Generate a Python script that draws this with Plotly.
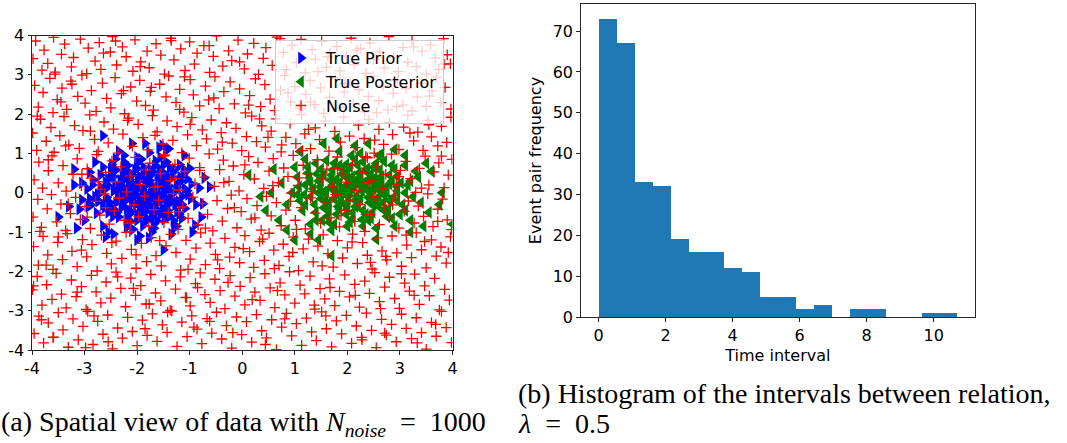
import plotly.graph_objects as go

# ---------------------------------------------------------------------------
# (a) spatial data: prior cluster, posterior cluster and uniform noise
# ---------------------------------------------------------------------------
prior_pts = [
    (-1.73, 0.05), (-2.16, 0.22), (-1.4, -0.18), (-1.93, -0.41), (-1.58, 0.36), (-2.37, -0.07), (-1.24, 0.14), (-2.04, 0.58), (-1.81, -0.12), (-1.47, 0.47),
    (-2.29, -0.33), (-1.7, -0.62), (-2.56, 0.19), (-1.03, -0.05), (-2.1, -0.2), (-1.76, 0.31), (-1.35, 0.02), (-2.45, 0.41), (-1.52, -0.39), (-1.98, 0.11),
    (-1.63, -0.27), (-2.22, 0.05), (-1.17, 0.29), (-1.9, -0.55), (-1.67, 0.68), (-2.73, -0.21), (-1.44, -0.52), (-2.14, 0.34), (-1.84, 0.19), (-1.28, -0.31),
    (-2.05, -0.09), (-1.6, 0.12), (-2.31, 0.26), (-1.95, 0.42), (-1.5, -0.08), (-2.42, -0.45), (-1.12, 0.48), (-1.79, -0.29), (-2.62, -0.38), (-1.38, 0.63),
    (-2.0, 0.75), (-1.69, -0.8), (-2.19, -0.65), (-1.31, -0.71), (-2.5, 0.6), (-0.97, 0.22), (-2.83, 0.33), (-1.56, 0.9), (-2.08, -0.93), (-1.87, 0.02),
    (-1.74, -0.04), (-2.27, 0.15), (-1.46, 0.24), (-2.12, -0.48), (-1.66, -0.16), (-1.99, 0.28), (-2.35, -0.19), (-1.21, -0.22), (-1.88, 0.52), (-2.58, -0.12),
    (-1.42, 0.08), (-2.03, -0.3), (-1.54, 0.55), (-2.24, 0.48), (-1.09, -0.4), (-2.66, 0.05), (-1.82, -0.71), (-1.33, 0.39), (-2.46, -0.6), (-1.6, -0.46),
    (-1.96, -0.18), (-1.71, 0.18), (-2.18, 0.69), (-1.26, 0.05), (-2.88, -0.31), (-1.48, -0.67), (-2.39, 0.12), (-1.92, 0.85), (-1.15, -0.65), (-2.7, 0.45),
    (-1.58, -0.04), (-2.07, 0.04), (-1.79, 0.4), (-1.36, -0.13), (-2.3, -0.38), (-1.65, 0.81), (-2.13, -0.72), (-0.88, -0.3), (-2.95, 0.1), (-1.52, 0.28),
    (-1.86, -0.37), (-2.25, 0.35), (-1.43, -0.28), (-2.01, 0.62), (-1.19, 0.71), (-2.52, -0.25), (-1.72, -0.53), (-2.41, 0.86), (-1.3, -0.9), (-2.11, 0.21),
    (-1.62, 0.45), (-2.33, -0.02), (-1.89, -0.84), (-1.05, 0.35), (-2.77, -0.52), (-1.44, 0.78), (-2.15, -0.13), (-1.68, 0.02), (-1.97, -0.6), (-2.6, 0.28),
    (-1.24, -0.48), (-2.04, 0.13), (-1.55, -0.2), (-2.48, 0.72), (-0.82, 0.12), (-3.05, -0.18), (-1.77, 1.02), (-2.2, -0.88), (-1.39, 0.17), (-1.91, -0.25),
    (-1.35, -1.05), (-2.9, 0.52), (-0.78, -0.62), (-2.35, 1.05), (-1.1, 0.95), (-3.1, -0.42), (-1.95, -1.1), (-2.65, -0.85), (-0.72, 0.38), (-1.58, 1.15),
    (-2.8, 0.78), (-1.25, -0.85), (-2.55, -1.0), (-0.9, -0.82), (-3.2, 0.2), (-1.72, -1.0), (-2.25, 0.95), (-1.0, 0.62), (-3.0, -0.7), (-1.45, 1.08),
    (-1.9, 0.08), (-2.02, -0.05), (-1.7, 0.1), (-1.78, -0.2), (-2.2, -0.12), (-1.55, 0.18), (-2.32, 0.32), (-1.45, -0.35), (-2.1, 0.45), (-1.65, -0.42),
    (-2.45, 0.05), (-1.25, 0.2), (-2.6, -0.22), (-1.15, -0.1), (-2.15, -0.55), (-1.58, 0.62), (-2.38, -0.5), (-1.32, 0.52), (-2.55, 0.35), (-1.2, -0.55),
    (-1.98, 0.35), (-1.83, -0.48), (-2.28, -0.25), (-1.5, 0.38), (-2.7, 0.15), (-1.05, 0.05), (-2.0, -0.7), (-1.75, 0.6), (-2.5, -0.38), (-1.38, -0.6),
    (-2.4, 0.58), (-1.62, -0.72), (-2.8, -0.1), (-0.98, -0.15), (-2.25, 0.78), (-1.85, -0.62), (-2.65, 0.65), (-1.18, 0.4), (-2.12, 0.02), (-1.72, -0.1),
    (-2.05, 0.2), (-1.8, 0.25), (-2.3, -0.1), (-1.62, -0.1), (-2.18, 0.55), (-1.48, 0.05), (-2.42, 0.22), (-1.95, -0.35), (-1.7, 0.5), (-2.6, 0.1),
    (-1.32, -0.2), (-2.2, -0.4), (-1.88, 0.65), (-2.75, -0.05), (-1.2, 0.3), (-2.0, -0.55), (-1.55, -0.55), (-2.5, 0.5), (-1.4, 0.4), (-2.35, -0.62),
    (-1.75, -0.35), (-2.12, 0.12), (-1.6, 0.3), (-2.28, 0.42), (-1.9, -0.15), (-2.55, -0.5), (-1.28, 0.6), (-2.85, 0.2), (-1.15, -0.3), (-2.0, 0.9),
    (-1.68, -0.9), (-2.4, -0.25), (-1.5, 0.7), (-2.65, -0.3), (-1.1, 0.1), (-2.25, 0.62), (-1.85, 0.32), (-2.08, -0.25), (-1.42, -0.45), (-2.9, -0.15),
    (-2.65, 1.45), (-1.52, 1.2), (-3.5, -0.62), (-3.15, -0.9), (-1.5, -1.45), (-0.62, 0.15), (-0.95, -1.0), (-2.6, -1.12), (-1.78, -1.15), (-3.2, 0.6),
    (-2.1, 1.25), (-1.85, 1.25), (-0.75, -0.28), (-2.92, -0.35), (-3.3, -0.35), (-1.1, 0.58), (-2.0, -1.2), (-2.45, -1.05), (-1.4, 1.12), (-3.05, 0.25),
]

posterior_pts = [
    (2.1, 0.1), (1.85, 0.25), (2.4, -0.12), (1.95, -0.3), (2.25, 0.38), (1.6, 0.05), (2.55, 0.2), (2.0, 0.55), (1.75, -0.15), (2.3, -0.45),
    (1.45, 0.3), (2.7, -0.05), (2.15, -0.2), (1.9, 0.02), (2.45, 0.48), (1.55, -0.38), (2.85, 0.3), (2.05, 0.3), (1.7, 0.45), (2.35, 0.12),
    (1.3, -0.1), (2.6, -0.35), (2.2, 0.7), (1.8, -0.55), (2.95, 0.05), (1.2, 0.2), (2.5, 0.65), (2.1, -0.65), (1.5, 0.6), (2.75, -0.6),
    (1.65, -0.25), (2.3, 0.25), (1.95, 0.15), (2.55, -0.18), (1.4, -0.5), (3.05, -0.3), (2.0, -0.42), (1.85, 0.7), (2.65, 0.42), (1.1, -0.2),
    (2.4, -0.7), (1.6, 0.82), (2.9, 0.6), (1.25, 0.5), (3.15, 0.2), (2.15, 0.85), (1.75, -0.8), (2.45, -0.02), (2.02, -0.1), (1.88, -0.05),
    (2.28, 0.05), (2.12, 0.18), (1.98, 0.4), (2.38, 0.32), (1.72, 0.2), (2.5, 0.1), (2.62, 0.05), (2.2, -0.32), (1.82, -0.35), (2.05, 0.65),
    (1.35, 0.1), (2.8, -0.2), (1.5, -0.15), (3.0, -0.55), (2.3, -0.85), (1.15, -0.45), (2.7, 0.8), (1.4, 0.75), (3.25, -0.1), (2.0, -0.85),
    (0.95, 0.0), (3.35, 0.4), (1.05, 0.4), (2.55, -0.9), (1.7, -0.95), (3.2, -0.7), (0.85, -0.3), (2.9, -0.85), (1.3, -0.8), (3.4, -0.25),
    (2.25, 1.0), (1.85, 1.05), (2.65, 0.98), (3.1, 0.7), (0.75, 0.25), (1.2, 0.85), (2.8, 0.22), (2.35, -0.55), (1.62, -0.6), (2.08, 0.95),
    (2.05, 0.0), (1.92, 0.12), (2.18, -0.08), (2.32, 0.15), (1.78, 0.08), (2.42, -0.25), (1.68, 0.32), (2.58, 0.28), (1.58, -0.2), (2.72, 0.12),
    (1.88, -0.22), (2.22, 0.5), (1.48, 0.15), (2.88, -0.12), (2.1, -0.5), (1.72, 0.58), (2.48, -0.5), (1.38, -0.3), (3.1, 0.0), (1.98, 0.72),
    (2.62, 0.58), (1.28, 0.38), (2.78, -0.42), (1.52, -0.7), (2.28, -0.68), (1.9, 0.48), (2.52, 0.38), (1.65, -0.45), (2.95, 0.42), (1.18, -0.05),
    (2.38, 0.62), (2.0, -0.25), (1.8, 0.35), (2.68, -0.25), (1.42, 0.48), (3.02, 0.25), (2.15, 0.3), (1.55, 0.02), (2.85, -0.65), (1.08, 0.15),
    (1.95, 0.05), (2.25, -0.15), (1.7, 0.1), (2.45, 0.3), (2.1, 0.42), (1.6, -0.4), (2.6, -0.1), (1.85, -0.42), (2.35, 0.55), (1.45, 0.0),
    (2.8, 0.45), (2.0, 0.2), (1.3, 0.25), (2.7, -0.45), (2.15, -0.35), (1.55, 0.45), (2.5, -0.3), (1.9, 0.6), (2.95, -0.2), (1.2, -0.3),
    (2.3, 0.78), (1.75, 0.75), (2.55, 0.75), (1.4, -0.7), (3.1, -0.45), (2.05, -0.75), (1.65, -0.75), (2.85, 0.7), (1.05, -0.05), (2.4, 0.05),
    (3.2, 0.3), (1.5, 0.3), (2.2, 0.22), (1.8, -0.05), (2.65, 0.25), (2.45, -0.65), (1.25, 0.65), (2.95, 0.15), (1.98, -0.55), (2.75, 0.0),
    (4.0, -0.8), (1.7, -1.6), (2.55, -1.18), (0.12, 0.45), (0.45, -0.45), (1.0, -1.2), (3.3, 0.55), (3.6, 0.55), (1.55, 1.25), (1.8, 1.38),
    (2.6, 0.95), (0.55, 0.0), (0.7, -0.7), (3.55, -0.5), (3.75, -0.3), (1.0, 0.65), (3.5, 0.75), (3.2, -1.0), (1.3, -1.05), (2.15, 1.2),
    (0.85, -0.95), (3.8, 0.0), (2.9, 1.1), (1.1, 1.05), (3.45, -0.85), (0.6, 0.6), (2.4, 1.25), (1.45, -1.2), (3.1, 0.95), (0.35, -0.1),
]

noise_pts = [
    # y in [3, 4]
    (-3.98, 3.41), (-3.93, 3.86), (-3.81, 3.12), (-3.77, 3.63), (-3.7, 3.29), (-3.59, 3.95), (-3.56, 3.07), (-3.44, 3.52), (-3.38, 3.78), (-3.25, 3.2),
    (-3.21, 3.44), (-3.08, 3.91), (-2.96, 3.03), (-2.93, 3.68), (-2.8, 3.35), (-2.72, 3.82), (-2.69, 3.14), (-2.51, 3.58), (-2.47, 3.97), (-2.39, 3.25),
    (-2.28, 3.71), (-2.21, 3.46), (-2.08, 3.09), (-2.04, 3.89), (-1.93, 3.33), (-1.81, 3.6), (-1.77, 3.18), (-1.64, 3.79), (-1.55, 3.5), (-1.48, 3.02),
    (-1.36, 3.93), (-1.3, 3.38), (-1.17, 3.66), (-1.09, 3.11), (-1.0, 3.84), (-0.91, 3.27), (-0.86, 3.55), (-0.73, 3.74), (-0.62, 3.06), (-0.55, 3.47),
    (-0.49, 3.99), (-0.37, 3.22), (-0.26, 3.61), (-0.2, 3.36), (-0.08, 3.88), (0.04, 3.15), (0.1, 3.53), (0.22, 3.8), (0.31, 3.01), (0.4, 3.42),
    (0.45, 3.69), (0.57, 3.24), (0.66, 3.96), (0.78, 3.57), (0.84, 3.13), (0.95, 3.75), (1.03, 3.31), (1.12, 3.9), (1.2, 3.05), (1.33, 3.64),
    (1.39, 3.4), (1.51, 3.85), (1.6, 3.19), (1.67, 3.56), (1.8, 3.72), (1.86, 3.1), (1.98, 3.48), (2.07, 3.93), (2.13, 3.26), (2.25, 3.67),
    (2.36, 3.04), (2.43, 3.81), (2.5, 3.39), (2.62, 3.58), (2.7, 3.17), (2.79, 3.97), (2.88, 3.45), (2.97, 3.08), (3.06, 3.7), (3.15, 3.32),
    (3.23, 3.87), (3.31, 3.21), (3.42, 3.6), (3.5, 3.02), (3.58, 3.76), (3.67, 3.43), (3.74, 3.14), (3.83, 3.92), (3.9, 3.51), (3.96, 3.28),
    # y in [2, 3]
    (-3.95, 2.73), (-3.88, 2.18), (-3.79, 2.55), (-3.66, 2.91), (-3.6, 2.04), (-3.52, 2.37), (-3.43, 2.66), (-3.34, 2.12), (-3.26, 2.84), (-3.13, 2.45),
    (-3.05, 2.99), (-2.99, 2.28), (-2.87, 2.6), (-2.78, 2.07), (-2.66, 2.79), (-2.58, 2.4), (-2.5, 2.16), (-2.42, 2.93), (-2.3, 2.52), (-2.24, 2.01),
    (-2.12, 2.69), (-2.01, 2.33), (-1.95, 2.86), (-1.84, 2.22), (-1.75, 2.58), (-1.69, 2.1), (-1.57, 2.76), (-1.45, 2.44), (-1.4, 2.97), (-1.26, 2.3),
    (-1.19, 2.63), (-1.11, 2.05), (-0.99, 2.88), (-0.93, 2.49), (-0.81, 2.21), (-0.7, 2.71), (-0.64, 2.36), (-0.52, 2.95), (-0.44, 2.14), (-0.35, 2.57),
    (-0.23, 2.82), (-0.15, 2.26), (-0.05, 2.64), (0.06, 2.03), (0.14, 2.47), (0.25, 2.9), (0.35, 2.19), (0.43, 2.75), (0.53, 2.38), (0.62, 2.09),
    (0.73, 2.61), (0.81, 2.98), (0.92, 2.31), (1.0, 2.7), (1.1, 2.15), (1.21, 2.5), (1.29, 2.85), (1.38, 2.24), (1.49, 2.67), (1.55, 2.02),
    (1.66, 2.42), (1.77, 2.92), (1.85, 2.17), (1.94, 2.56), (2.05, 2.8), (2.11, 2.27), (2.22, 2.62), (2.33, 2.06), (2.4, 2.45), (2.49, 2.96),
    (2.6, 2.34), (2.68, 2.72), (2.77, 2.11), (2.87, 2.53), (2.95, 2.87), (3.06, 2.23), (3.12, 2.65), (3.23, 2.08), (3.33, 2.43), (3.41, 2.78),
    (3.5, 2.2), (3.61, 2.59), (3.69, 2.94), (3.78, 2.29), (3.86, 2.68), (3.97, 2.13),
    # y in [1, 2]
    (-3.99, 1.52), (-3.91, 1.08), (-3.84, 1.87), (-3.73, 1.31), (-3.64, 1.66), (-3.58, 1.03), (-3.47, 1.45), (-3.39, 1.94), (-3.3, 1.22), (-3.19, 1.71),
    (-3.1, 1.13), (-3.03, 1.58), (-2.9, 1.98), (-2.81, 1.36), (-2.74, 1.05), (-2.63, 1.8), (-2.55, 1.27), (-2.45, 1.62), (-2.36, 1.01), (-2.27, 1.49),
    (-2.16, 1.9), (-2.09, 1.18), (-1.98, 1.74), (-1.89, 1.4), (-1.79, 1.09), (-1.71, 1.96), (-1.62, 1.55), (-1.51, 1.24), (-1.43, 1.83), (-1.32, 1.33),
    (-1.24, 1.68), (-1.15, 1.02), (-1.04, 1.47), (-0.96, 1.91), (-0.87, 1.2), (-0.76, 1.6), (-0.68, 1.37), (-0.59, 1.85), (-0.47, 1.11), (-0.4, 1.53),
    (-0.3, 1.78), (-0.19, 1.26), (-0.12, 1.64), (-0.01, 1.07), (0.08, 1.43), (0.18, 1.95), (0.27, 1.3), (0.37, 1.7), (0.44, 1.16), (0.55, 1.57),
    (0.64, 1.88), (0.74, 1.04), (0.83, 1.41), (0.91, 1.76), (1.02, 1.25), (1.13, 1.99), (1.19, 1.5), (1.3, 1.12), (1.39, 1.65), (1.47, 1.35),
    (1.58, 1.82), (1.65, 1.06), (1.76, 1.56), (1.87, 1.29), (1.93, 1.93), (2.04, 1.44), (2.15, 1.15), (2.21, 1.72), (2.32, 1.38), (2.41, 1.86),
    (2.51, 1.01), (2.6, 1.61), (2.69, 1.23), (2.8, 1.79), (2.86, 1.48), (2.98, 1.1), (3.07, 1.67), (3.15, 1.97), (3.26, 1.32), (3.34, 1.54),
    (3.44, 1.08), (3.53, 1.84), (3.6, 1.42), (3.72, 1.19), (3.79, 1.69), (3.89, 1.28), (3.97, 1.92),
    # y in [0, 1]
    (-3.96, 0.33), (-3.87, 0.78), (-3.8, 0.12), (-3.69, 0.56), (-3.62, 0.94), (-3.5, 0.25), (-3.41, 0.69), (-3.35, 0.04), (-3.22, 0.47), (-3.14, 0.86),
    (-3.06, 0.18), (-2.95, 0.61), (-2.88, 0.37), (-2.77, 0.97), (-2.69, 0.09), (-2.6, 0.52), (-2.48, 0.81), (-2.41, 0.28), (-2.31, 0.66), (-2.2, 0.02),
    (-2.13, 0.43), (-2.03, 0.9), (-1.94, 0.21), (-1.83, 0.58), (-1.76, 0.75), (-1.66, 0.14), (-1.56, 0.49), (-1.47, 0.96), (-1.37, 0.31), (-1.28, 0.72),
    (-1.2, 0.07), (-1.09, 0.54), (-1.01, 0.88), (-0.9, 0.23), (-0.81, 0.64), (-0.72, 0.4), (-0.63, 0.99), (-0.53, 0.16), (-0.43, 0.59), (-0.36, 0.83),
    (-0.25, 0.29), (-0.17, 0.68), (-0.06, 0.05), (0.03, 0.46), (0.12, 0.92), (0.23, 0.35), (0.3, 0.77), (0.41, 0.11), (0.51, 0.55), (0.59, 0.87),
    (0.69, 0.26), (0.79, 0.63), (0.87, 0.41), (0.97, 0.95), (1.06, 0.19), (1.16, 0.7), (1.24, 0.48), (1.34, 0.03), (1.43, 0.84), (1.53, 0.38),
    (1.61, 0.6), (1.72, 0.15), (1.81, 0.91), (1.9, 0.44), (1.99, 0.27), (2.1, 0.73), (2.18, 0.06), (2.29, 0.51), (2.38, 0.89), (2.46, 0.32),
    (2.56, 0.65), (2.66, 0.1), (2.73, 0.47), (2.84, 0.98), (2.93, 0.22), (3.01, 0.57), (3.11, 0.8), (3.2, 0.36), (3.3, 0.01), (3.37, 0.62),
    (3.48, 0.93), (3.55, 0.2), (3.65, 0.53), (3.74, 0.76), (3.84, 0.13), (3.92, 0.45), (3.99, 0.85),
    # y in [-1, 0]
    (-3.98, -0.62), (-3.89, -0.17), (-3.82, -0.88), (-3.71, -0.41), (-3.63, -0.05), (-3.53, -0.74), (-3.45, -0.29), (-3.36, -0.96), (-3.27, -0.53), (-3.17, -0.12),
    (-3.08, -0.68), (-2.99, -0.35), (-2.89, -0.91), (-2.79, -0.22), (-2.71, -0.57), (-2.62, -0.03), (-2.53, -0.8), (-2.43, -0.46), (-2.34, -0.14), (-2.25, -0.7),
    (-2.14, -0.99), (-2.06, -0.31), (-1.97, -0.61), (-1.86, -0.08), (-1.78, -0.85), (-1.68, -0.43), (-1.59, -0.19), (-1.49, -0.76), (-1.41, -0.5), (-1.31, -0.02),
    (-1.22, -0.93), (-1.13, -0.36), (-1.03, -0.65), (-0.94, -0.11), (-0.84, -0.82), (-0.75, -0.27), (-0.66, -0.55), (-0.56, -0.97), (-0.48, -0.2), (-0.38, -0.72),
    (-0.28, -0.4), (-0.21, -0.06), (-0.1, -0.89), (-0.02, -0.48), (0.09, -0.15), (0.17, -0.67), (0.28, -0.33), (0.36, -0.95), (0.46, -0.09), (0.55, -0.59),
    (0.65, -0.25), (0.74, -0.84), (0.83, -0.44), (0.93, -0.01), (1.01, -0.7), (1.12, -0.38), (1.2, -0.92), (1.3, -0.13), (1.39, -0.52), (1.49, -0.78),
    (1.58, -0.23), (1.67, -0.64), (1.78, -0.04), (1.85, -0.87), (1.96, -0.45), (2.05, -0.18), (2.14, -0.73), (2.24, -0.3), (2.33, -0.98), (2.43, -0.56),
    (2.51, -0.1), (2.61, -0.81), (2.7, -0.37), (2.8, -0.63), (2.89, -0.07), (2.98, -0.9), (3.08, -0.47), (3.16, -0.21), (3.27, -0.77), (3.35, -0.34),
    (3.45, -0.6), (3.53, -0.03), (3.63, -0.86), (3.72, -0.42), (3.81, -0.16), (3.9, -0.69), (3.98, -0.94),
    # y in [-2, -1]
    (-3.97, -1.37), (-3.88, -1.84), (-3.79, -1.11), (-3.7, -1.58), (-3.6, -1.95), (-3.51, -1.26), (-3.42, -1.7), (-3.33, -1.04), (-3.24, -1.49), (-3.14, -1.88),
    (-3.04, -1.19), (-2.96, -1.63), (-2.86, -1.32), (-2.76, -1.99), (-2.68, -1.08), (-2.58, -1.54), (-2.49, -1.81), (-2.4, -1.23), (-2.29, -1.67), (-2.21, -1.01),
    (-2.11, -1.44), (-2.02, -1.92), (-1.92, -1.29), (-1.82, -1.75), (-1.73, -1.14), (-1.64, -1.6), (-1.54, -1.86), (-1.45, -1.35), (-1.36, -1.06), (-1.26, -1.52),
    (-1.17, -1.97), (-1.07, -1.21), (-0.99, -1.69), (-0.88, -1.41), (-0.79, -1.02), (-0.7, -1.83), (-0.61, -1.28), (-0.51, -1.57), (-0.43, -1.93), (-0.33, -1.16),
    (-0.24, -1.64), (-0.14, -1.39), (-0.05, -1.78), (0.05, -1.09), (0.14, -1.5), (0.22, -1.9), (0.33, -1.24), (0.42, -1.72), (0.51, -1.03), (0.6, -1.46),
    (0.7, -1.85), (0.78, -1.31), (0.89, -1.62), (0.97, -1.13), (1.07, -1.98), (1.16, -1.43), (1.26, -1.18), (1.35, -1.76), (1.44, -1.36), (1.54, -1.07),
    (1.63, -1.55), (1.73, -1.89), (1.81, -1.22), (1.91, -1.66), (2.0, -1.4), (2.1, -1.05), (2.19, -1.8), (2.29, -1.27), (2.38, -1.59), (2.47, -1.94),
    (2.57, -1.15), (2.66, -1.48), (2.75, -1.71), (2.85, -1.1), (2.94, -1.53), (3.03, -1.87), (3.13, -1.33), (3.22, -1.65), (3.31, -1.02), (3.41, -1.45),
    (3.5, -1.91), (3.6, -1.2), (3.69, -1.61), (3.78, -1.38), (3.88, -1.79), (3.96, -1.12),
    # y in [-3, -2]
    (-3.99, -2.47), (-3.9, -2.13), (-3.81, -2.86), (-3.72, -2.34), (-3.62, -2.71), (-3.54, -2.05), (-3.44, -2.58), (-3.35, -2.93), (-3.25, -2.22), (-3.16, -2.64),
    (-3.06, -2.39), (-2.97, -2.97), (-2.87, -2.1), (-2.78, -2.52), (-2.69, -2.8), (-2.59, -2.27), (-2.5, -2.68), (-2.4, -2.02), (-2.31, -2.43), (-2.22, -2.9),
    (-2.12, -2.17), (-2.03, -2.61), (-1.93, -2.36), (-1.83, -2.83), (-1.74, -2.08), (-1.65, -2.55), (-1.55, -2.75), (-1.46, -2.24), (-1.37, -2.99), (-1.27, -2.45),
    (-1.18, -2.14), (-1.08, -2.66), (-0.99, -2.88), (-0.89, -2.31), (-0.8, -2.04), (-0.71, -2.59), (-0.61, -2.79), (-0.52, -2.2), (-0.42, -2.49), (-0.33, -2.95),
    (-0.23, -2.11), (-0.14, -2.63), (-0.04, -2.38), (0.05, -2.85), (0.15, -2.16), (0.24, -2.53), (0.34, -2.74), (0.43, -2.06), (0.53, -2.42), (0.62, -2.92),
    (0.72, -2.29), (0.81, -2.6), (0.9, -2.01), (1.0, -2.81), (1.1, -2.35), (1.19, -2.57), (1.29, -2.12), (1.38, -2.96), (1.48, -2.44), (1.57, -2.7),
    (1.66, -2.19), (1.76, -2.87), (1.85, -2.51), (1.95, -2.09), (2.04, -2.65), (2.14, -2.33), (2.23, -2.91), (2.33, -2.25), (2.42, -2.56), (2.52, -2.03),
    (2.61, -2.77), (2.71, -2.4), (2.8, -2.15), (2.9, -2.69), (2.99, -2.94), (3.09, -2.3), (3.18, -2.5), (3.28, -2.07), (3.37, -2.84), (3.47, -2.37),
    (3.56, -2.62), (3.66, -2.18), (3.75, -2.98), (3.85, -2.46), (3.94, -2.73),
    # y in [-4, -3]
    (-3.96, -3.58), (-3.87, -3.14), (-3.78, -3.82), (-3.69, -3.31), (-3.59, -3.67), (-3.5, -3.05), (-3.41, -3.49), (-3.31, -3.93), (-3.22, -3.21), (-3.12, -3.74),
    (-3.03, -3.4), (-2.94, -3.02), (-2.84, -3.86), (-2.75, -3.27), (-2.65, -3.6), (-2.56, -3.11), (-2.47, -3.97), (-2.37, -3.44), (-2.28, -3.7), (-2.18, -3.17),
    (-2.09, -3.53), (-2.0, -3.89), (-1.9, -3.24), (-1.81, -3.63), (-1.71, -3.08), (-1.62, -3.78), (-1.52, -3.36), (-1.43, -3.55), (-1.34, -3.01), (-1.24, -3.91),
    (-1.15, -3.29), (-1.05, -3.66), (-0.96, -3.13), (-0.86, -3.47), (-0.77, -3.84), (-0.67, -3.2), (-0.58, -3.57), (-0.49, -3.04), (-0.39, -3.72), (-0.3, -3.38),
    (-0.2, -3.95), (-0.11, -3.16), (-0.01, -3.61), (0.08, -3.28), (0.18, -3.8), (0.27, -3.1), (0.37, -3.51), (0.46, -3.69), (0.56, -3.23), (0.65, -3.99),
    (0.75, -3.42), (0.84, -3.07), (0.94, -3.64), (1.03, -3.33), (1.13, -3.88), (1.22, -3.19), (1.32, -3.54), (1.41, -3.76), (1.51, -3.03), (1.6, -3.46),
    (1.7, -3.92), (1.79, -3.26), (1.89, -3.59), (1.98, -3.12), (2.08, -3.83), (2.17, -3.39), (2.27, -3.68), (2.36, -3.06), (2.46, -3.5), (2.55, -3.94),
    (2.65, -3.22), (2.74, -3.62), (2.84, -3.35), (2.93, -3.79), (3.03, -3.09), (3.12, -3.45), (3.22, -3.71), (3.31, -3.18), (3.41, -3.56), (3.5, -3.98),
    (3.6, -3.3), (3.69, -3.65), (3.79, -3.02), (3.88, -3.43), (3.98, -3.81),
    # scattered over the whole square
    (-3.45, 2.31), (-2.12, -0.77), (1.44, 3.08), (0.61, -1.93), (-0.38, 1.29), (3.27, -2.61), (-1.73, 2.68), (2.35, 0.92), (-3.82, -3.23), (0.19, -2.72),
    (-2.64, 3.55), (1.88, -0.58), (-0.92, -3.42), (3.55, 1.73), (-1.28, 0.36), (2.71, -3.57), (-3.06, -1.46), (0.87, 2.54), (-0.15, -0.38), (3.84, 3.27),
    (-2.37, -2.14), (1.26, 1.61), (-3.69, 0.84), (0.44, -3.86), (-1.57, -1.22), (2.94, 2.19), (-0.63, 3.74), (3.12, -1.08), (-2.89, 1.57), (1.67, -2.41),
    (-1.06, -2.67), (2.18, 3.63), (-3.31, -0.28), (0.05, 0.71), (3.68, -3.35), (-1.94, 3.21), (1.03, -0.93), (-0.47, -1.71), (2.52, 1.34), (-2.55, -3.79),
    (0.72, 3.92), (-3.9, 1.95), (1.59, -3.13), (-0.81, 0.57), (3.41, 0.12), (-2.02, -1.58), (0.33, 1.88), (-1.42, -3.04), (2.86, -0.31), (-3.56, 3.02),
    (1.95, 2.77), (-0.27, -2.28), (3.03, -2.06), (-2.73, 0.28), (0.96, -1.52), (-1.19, 2.12), (2.44, -1.77), (-3.14, -2.53), (0.58, 0.18), (-1.66, 1.46),
    (3.72, -0.73), (-0.05, 3.33), (1.37, -2.86), (-2.26, 2.6), (2.63, -2.95), (-3.73, -1.84), (0.24, -0.64), (-1.85, -3.46), (3.19, 1.52), (-0.7, -0.9),
    (1.81, 0.61), (-2.95, -0.62), (0.81, -3.21), (-1.35, 3.87), (2.09, -1.25), (-3.36, 1.19), (0.12, 2.23), (-2.48, -1.27), (3.56, 2.46), (-0.99, 1.74),
    (1.52, -1.86), (-3.97, -2.37), (2.28, -3.74), (-0.54, 2.41), (3.92, -1.52), (-1.5, 0.93), (0.67, -2.49), (-2.82, -3.13), (1.15, 1.07), (-0.18, -3.56),
    (2.98, 0.41), (-3.24, 2.76), (1.72, -0.12), (-1.03, -1.95), (3.33, -3.82), (-2.18, 1.84), (0.39, -1.18), (-3.6, -3.68), (2.56, 2.04), (-0.85, -2.41),
    (1.08, 0.38), (-1.77, -2.83), (3.79, 0.93), (-2.6, -0.38), (0.49, 1.41), (-3.05, 0.47), (2.15, -2.61), (-0.35, 0.26), (1.63, 3.46), (-1.21, -0.48),
    (3.47, -1.24), (-2.41, 3.86), (0.92, -0.22), (-3.85, -0.98), (2.73, -1.62), (-1.1, 2.95), (0.02, -1.42), (-2.98, -3.94), (1.3, 2.31), (-0.62, -3.27),
    (3.26, 3.71), (-1.61, 0.16), (2.39, 0.27), (-3.5, -1.12), (0.75, 1.22), (-2.07, -2.43),
]

spatial_ticks = [-4, -3, -2, -1, 0, 1, 2, 3, 4]
spatial_ticktext = ["-4", "-3", "-2", "-1", "0", "1", "2", "3", "4"]

# ---------------------------------------------------------------------------
# (b) histogram of intervals between related events (20 equal bins)
# ---------------------------------------------------------------------------
bin_start = 0.0
bin_width = 0.535
bin_counts = [73, 67, 33, 32, 19, 16, 16, 12, 11, 5, 5, 2, 3, 0, 2, 2, 0, 0, 1, 1]
hist_xticks = [0, 2, 4, 6, 8, 10]
hist_yticks = [0, 10, 20, 30, 40, 50, 60, 70]

caption_a = "(a) Spatial view of data with <i>N</i><sub><i>noise</i></sub>\u2002=\u20021000"
caption_b1 = "(b) Histogram of the intervals between relation,"
caption_b2 = "<i>λ</i>\u2002=\u20020.5"

# ---------------------------------------------------------------------------
W, H = 1067, 443


def px_x(p):
    return p / W


def px_y(p):
    return 1 - p / H


TICK_FONT = dict(family="DejaVu Sans", size=16, color="black")
SPINE = "#262626"

fig = go.Figure()

fig.add_trace(go.Scatter(
    x=[p[0] for p in prior_pts], y=[p[1] for p in prior_pts],
    mode="markers", name="True Prior",
    marker=dict(symbol="triangle-right", size=11, color="#0000ff", line=dict(width=0)),
    xaxis="x", yaxis="y",
))
fig.add_trace(go.Scatter(
    x=[p[0] for p in posterior_pts], y=[p[1] for p in posterior_pts],
    mode="markers", name="True Posterior",
    marker=dict(symbol="triangle-left", size=11, color="#008000", line=dict(width=0)),
    xaxis="x", yaxis="y",
))
fig.add_trace(go.Scatter(
    x=[p[0] for p in noise_pts], y=[p[1] for p in noise_pts],
    mode="markers", name="Noise",
    marker=dict(symbol="cross-thin", size=7.5, color="#ff0000", line=dict(width=1.3, color="#ff0000")),
    xaxis="x", yaxis="y",
))

centers = [bin_start + (i + 0.5) * bin_width for i in range(len(bin_counts))]
fig.add_trace(go.Bar(
    x=centers, y=bin_counts, width=bin_width,
    marker=dict(color="#1f77b4", line=dict(width=0)),
    showlegend=False, xaxis="x2", yaxis="y2",
))

common_axis = dict(
    showline=True, linecolor=SPINE, linewidth=1, mirror=True,
    ticks="outside", ticklen=3.5, tickwidth=1, tickcolor=SPINE,
    showgrid=False, zeroline=False, tickfont=TICK_FONT, automargin=False,
)

fig.update_layout(
    width=W, height=H,
    margin=dict(l=0, r=0, t=0, b=0, autoexpand=False),
    paper_bgcolor="white", plot_bgcolor="white",
    bargap=0,
    xaxis=dict(domain=[px_x(32), px_x(452.5)], range=[-4, 4],
               tickvals=spatial_ticks, ticktext=spatial_ticktext, anchor="y", **common_axis),
    yaxis=dict(domain=[px_y(350), px_y(35.5)], range=[-4, 4],
               tickvals=spatial_ticks, ticktext=spatial_ticktext, anchor="x", **common_axis),
    xaxis2=dict(domain=[px_x(580.7), px_x(975)], range=[-0.535, 11.235],
                tickvals=hist_xticks, anchor="y2",
                title=dict(text="Time interval", font=TICK_FONT, standoff=6), **common_axis),
    yaxis2=dict(domain=[px_y(317), px_y(4)], range=[0, 76.65],
                tickvals=hist_yticks, anchor="x2",
                title=dict(text="Event pair frequency", font=TICK_FONT, standoff=7), **common_axis),
    legend=dict(
        x=px_x(444), y=px_y(40), xanchor="right", yanchor="top",
        bgcolor="rgba(255,255,255,0.8)", bordercolor="#cccccc", borderwidth=1,
        font=dict(family="DejaVu Sans", size=16, color="black"),
        itemwidth=40,
    ),
    showlegend=True,
)

CAP_FONT = dict(family="Liberation Serif", size=28, color="black")
fig.add_annotation(text=caption_a, xref="paper", yref="paper", x=px_x(488), y=px_y(423),
                   xanchor="right", yanchor="middle", showarrow=False, font=CAP_FONT)
fig.add_annotation(text=caption_b1, xref="paper", yref="paper", x=px_x(516), y=px_y(393),
                   xanchor="left", yanchor="middle", showarrow=False, font=CAP_FONT)
fig.add_annotation(text=caption_b2, xref="paper", yref="paper", x=px_x(516), y=px_y(423),
                   xanchor="left", yanchor="middle", showarrow=False, font=CAP_FONT)

fig.write_html("out.html")
